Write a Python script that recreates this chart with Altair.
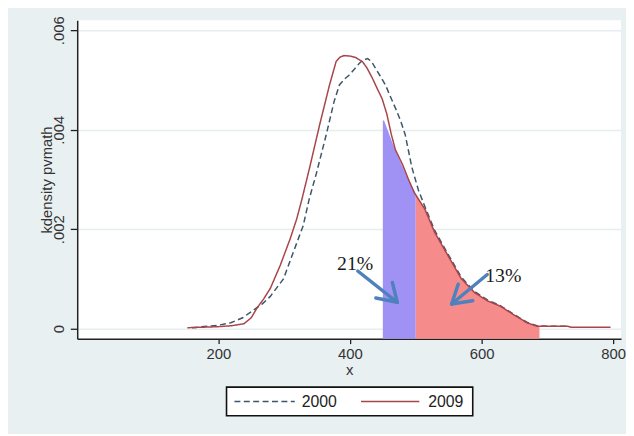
import altair as alt
import pandas as pd

# ---- data ----
x_2009 = [153, 175, 199, 220, 239, 250, 259, 269, 279, 294, 309, 319, 327, 339, 354, 369, 379, 385,
          391, 400, 409, 419, 426, 434, 441, 449, 456, 463, 469, 480, 489, 498, 514, 529, 549, 569,
          589, 609, 629, 649, 669, 684, 700, 731, 736, 796]
y_2009 = [0.00002, 0.00003, 0.00004, 0.00006, 0.0001, 0.00022, 0.00042, 0.0006, 0.00081, 0.00127,
          0.0018, 0.0022, 0.0026, 0.00325, 0.0041, 0.0049, 0.00537, 0.00546, 0.00549, 0.00548,
          0.00545, 0.00537, 0.00524, 0.00504, 0.00484, 0.00462, 0.00432, 0.0039, 0.0036, 0.0033,
          0.003, 0.00273, 0.0024, 0.00193, 0.00147, 0.00101, 0.00073, 0.00056, 0.00045, 0.00028,
          0.00012, 0.00005, 0.00005, 0.00005, 0.00003, 0.00003]

x_2000 = [160, 184, 200, 219, 237, 254, 267, 279, 299, 314, 329, 338, 349, 364, 376, 384, 392, 399,
          407, 414, 420, 427, 433, 439, 446, 454, 461, 469, 477, 484, 494, 504, 514, 529, 549, 569,
          589, 609, 629, 649, 669, 684, 700, 731]
y_2000 = [0.00002, 0.00005, 0.00007, 0.00012, 0.00022, 0.00038, 0.0005, 0.00065, 0.001, 0.00154,
          0.00207, 0.0026, 0.00312, 0.0039, 0.00457, 0.0049, 0.00502, 0.0051, 0.00522, 0.00533,
          0.0054, 0.00543, 0.00537, 0.00523, 0.00508, 0.0049, 0.00468, 0.00444, 0.00418, 0.0039,
          0.00325, 0.00279, 0.00245, 0.00197, 0.0015, 0.00104, 0.00075, 0.00058, 0.00046, 0.00029,
          0.00013, 0.00006, 0.00005, 0.00005]

purple_x = [450, 452, 469, 489, 500]
purple_y = [0.00419, 0.00418, 0.00358, 0.00299, 0.00272]

salmon_x = [500, 514, 529, 549, 569, 589, 609, 629, 649, 669, 688]
salmon_y = [0.00272, 0.0024, 0.00193, 0.00147, 0.00101, 0.00073, 0.00056, 0.00045, 0.00028,
            0.00012, 0.00005]

arrow_x1 = [411.9, 472.0, 472.0, 608.7, 554.6, 554.6]
arrow_y1 = [0.00116, 0.000531, 0.000531, 0.00109, 0.000497, 0.000497]
arrow_x2 = [472.0, 439.4, 464.5, 554.6, 586.6, 564.5]
arrow_y2 = [0.000531, 0.000617, 0.000929, 0.000497, 0.000563, 0.000895]

label_text = ["21%", "13%"]
label_x = [408, 633]
label_y = [0.00129, 0.00105]

series_names = ["2000", "2009"]
x_ticks = [200, 400, 600, 800]
y_ticks = [0, 0.002, 0.004, 0.006]

X_MIN, X_MAX = -14.4, 812
Y_MIN, Y_MAX = -0.0002, 0.0062

# ---- styling ----
BG = "#E8F0F2"
DASH_COL = "#3E5668"
RED_COL = "#A8454A"
PURPLE = "#A092F4"
SALMON = "#F68B8B"
ARROW = "#4F81BD"
FONT = "Liberation Sans"
DASH = [6, 3.5]

df_lines = pd.concat([
    pd.DataFrame({"x": x_2000, "y": y_2000, "series": series_names[0]}),
    pd.DataFrame({"x": x_2009, "y": y_2009, "series": series_names[1]}),
])
df_purple = pd.DataFrame({"x": purple_x, "y": purple_y})
df_salmon = pd.DataFrame({"x": salmon_x, "y": salmon_y})
df_arrows = pd.DataFrame({"x1": arrow_x1, "y1": arrow_y1, "x2": arrow_x2, "y2": arrow_y2})
df_labels = pd.DataFrame({"t": label_text, "x": label_x, "y": label_y})

W, H = 550, 322
xs = alt.Scale(domain=[X_MIN, X_MAX], nice=False, zero=False)
ys = alt.Scale(domain=[Y_MIN, Y_MAX], nice=False, zero=False)

x_axis = alt.Axis(values=x_ticks, title="x", grid=False, tickSize=5, labelPadding=3,
                  titleY=31, titleBaseline="middle", format="d")
y_axis = alt.Axis(values=y_ticks, title="kdensity pvmath", grid=True, tickSize=7,
                  labelAngle=270, labelAlign="center", labelBaseline="bottom", labelPadding=4,
                  labelExpr="datum.value == 0 ? '0' : substring(format(datum.value, '.3f'), 1)",
                  titleX=-31, titleY=H / 2, titleAngle=270, titleAlign="center",
                  titleBaseline="middle")

purple = alt.Chart(df_purple).mark_area(color=PURPLE, opacity=1).encode(
    x=alt.X("x:Q", scale=xs, axis=x_axis),
    y=alt.Y("y:Q", scale=ys, axis=y_axis),
    y2=alt.datum(Y_MIN),
)
salmon = alt.Chart(df_salmon).mark_area(color=SALMON, opacity=1).encode(
    x=alt.X("x:Q", scale=xs),
    y=alt.Y("y:Q", scale=ys),
    y2=alt.datum(Y_MIN),
)

lines = alt.Chart(df_lines).mark_line(strokeWidth=1.5).encode(
    x=alt.X("x:Q", scale=xs),
    y=alt.Y("y:Q", scale=ys),
    color=alt.Color("series:N", scale=alt.Scale(domain=series_names, range=[DASH_COL, RED_COL]),
                    legend=None),
    strokeDash=alt.StrokeDash("series:N",
                              scale=alt.Scale(domain=series_names, range=[DASH, [1, 0]]),
                              legend=None),
)

arrows = alt.Chart(df_arrows).mark_rule(color=ARROW, strokeWidth=3.5, strokeCap="round").encode(
    x=alt.X("x1:Q", scale=xs),
    y=alt.Y("y1:Q", scale=ys),
    x2="x2:Q",
    y2="y2:Q",
)

labels = alt.Chart(df_labels).mark_text(font="Liberation Serif", fontSize=20, color="#1a1a1a").encode(
    x=alt.X("x:Q", scale=xs),
    y=alt.Y("y:Q", scale=ys),
    text="t:N",
)

# ---- legend box (below the plot, Stata style) ----
one = pd.DataFrame({"s": [series_names[0]]})
leg_box = alt.Chart(one).mark_rect(fill="white", stroke="#111", strokeWidth=1.6).encode(
    x=alt.value(151), x2=alt.value(400), y=alt.value(371), y2=alt.value(400))
leg_l1 = alt.Chart(one).mark_rule(color=DASH_COL, strokeWidth=1.6, strokeDash=DASH).encode(
    x=alt.value(159), x2=alt.value(220), y=alt.value(385.5))
leg_l2 = alt.Chart(one).mark_rule(color=RED_COL, strokeWidth=1.6).encode(
    x=alt.value(287), x2=alt.value(346), y=alt.value(385.5))
leg_t1 = alt.Chart(one).mark_text(font=FONT, fontSize=16, color="#222", align="left",
                                  baseline="middle", text=series_names[0]).encode(
    x=alt.value(227), y=alt.value(386))
leg_t2 = alt.Chart(one).mark_text(font=FONT, fontSize=16, color="#222", align="left",
                                  baseline="middle", text=series_names[1]).encode(
    x=alt.value(355), y=alt.value(386))

chart = alt.layer(purple, salmon, lines, arrows, labels,
                  leg_box, leg_l1, leg_l2, leg_t1, leg_t2).properties(
    width=W, height=H,
    padding={"left": 70, "top": 10, "right": 5, "bottom": 94},
    autosize=alt.AutoSizeParams(type="none"),
    background=BG,
).configure_view(
    fill="white", strokeWidth=0
).configure_axis(
    domainColor="#222", domainWidth=1.5, tickColor="#222", tickWidth=1.3,
    labelFont=FONT, labelFontSize=15, labelColor="#333",
    titleFont=FONT, titleFontSize=15, titleColor="#333", titleFontWeight="normal",
    gridColor="#E6EEF0", gridWidth=1.5,
)

chart.save("out.html", embed_options={"renderer": "svg", "actions": False})
